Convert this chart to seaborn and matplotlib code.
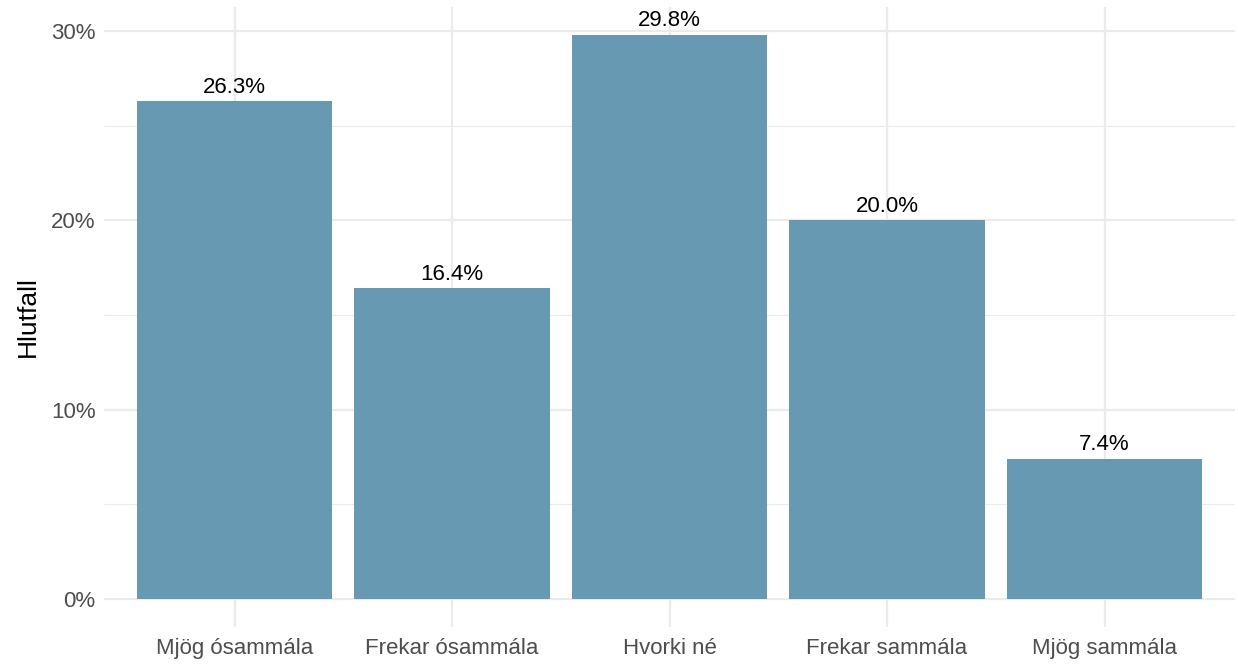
import pandas as pd
import seaborn as sns
import matplotlib.pyplot as plt
from matplotlib.ticker import MultipleLocator, FuncFormatter

# Data
categories = ["Mjög ósammála", "Frekar ósammála", "Hvorki né", "Frekar sammála", "Mjög sammála"]
shares = [26.3, 16.4, 29.8, 20.0, 7.4]

df = pd.DataFrame({"svar": categories, "hlutfall": shares})

sns.set_style("white")
plt.rcParams["font.family"] = ["Liberation Sans", "DejaVu Sans"]

fig = plt.figure(figsize=(12.38, 6.64), dpi=100)
ax = fig.add_axes([104 / 1238, 1 - 627 / 664, (1235 - 104) / 1238, (627 - 6.7) / 664])

sns.barplot(data=df, x="svar", y="hlutfall", color="#6899B3", width=0.9,
            saturation=1, linewidth=0, ax=ax, zorder=3)

for i, v in enumerate(shares):
    ax.annotate(f"{v:.1f}%", (i, v), xytext=(0, 2.5), textcoords="offset points",
                ha="center", va="bottom", fontsize=16, color="black", zorder=4)

ax.set_xlim(-0.6, 4.6)
ax.set_ylim(-1.49, 31.29)
ax.yaxis.set_major_locator(MultipleLocator(10))
ax.yaxis.set_minor_locator(MultipleLocator(5))
ax.yaxis.set_major_formatter(FuncFormatter(lambda v, p: f"{v:.0f}%"))

ax.grid(True, which="major", color="#EBEBEB", linewidth=1.6, zorder=0)
ax.grid(True, which="minor", axis="y", color="#EBEBEB", linewidth=0.8, zorder=0)
ax.set_axisbelow(True)
for s in ax.spines.values():
    s.set_visible(False)

ax.tick_params(axis="both", which="both", length=0, labelsize=16, labelcolor="#4D4D4D")
ax.tick_params(axis="x", pad=8)
ax.tick_params(axis="y", pad=6)
ax.set_xlabel("")
ax.set_ylabel("Hlutfall", fontsize=19, color="black", labelpad=8)

fig.savefig("out.png", dpi=100)
